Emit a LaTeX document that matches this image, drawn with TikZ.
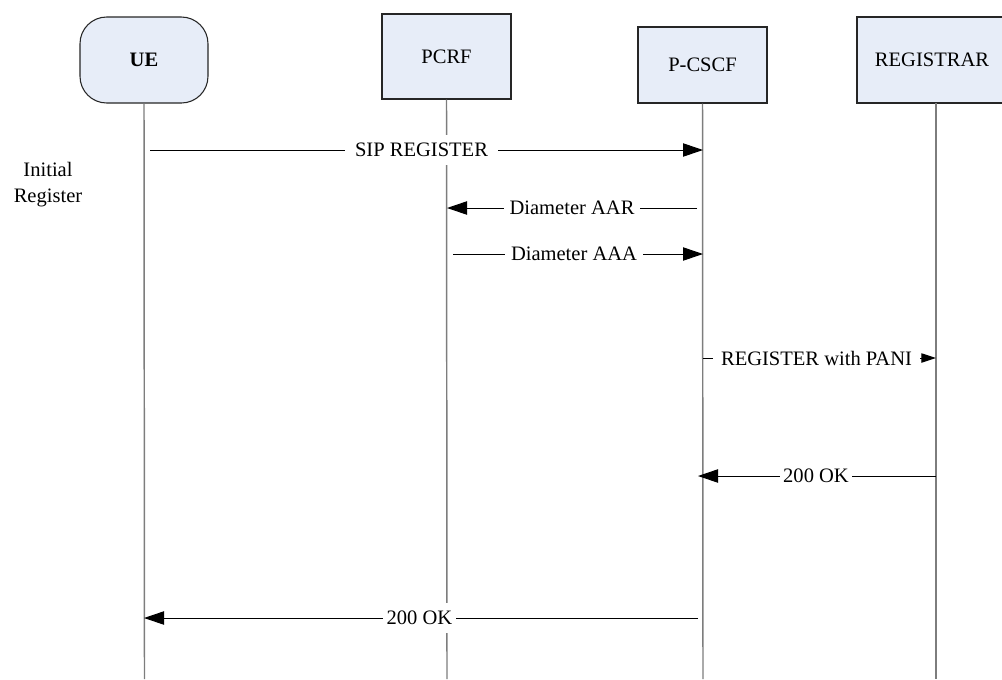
\documentclass[tikz,border=0pt]{standalone}
\usepackage{fontspec}
\setmainfont{Liberation Serif}
\usetikzlibrary{arrows.meta}
\definecolor{boxfill}{RGB}{231,237,248}
\definecolor{lifegray}{RGB}{125,125,125}
\begin{document}
\begin{tikzpicture}[x=0.75pt,y=-0.75pt,
  every node/.style={font=\fontsize{15.4}{19.5}\selectfont},
  actor/.style={draw=black!85, fill=boxfill, line width=0.8pt, inner sep=0pt},
  life/.style={draw=lifegray, line width=1.1pt},
  msg/.style={draw=black, line width=0.75pt, -{Triangle[length=15pt,width=10pt]}},
  smallmsg/.style={draw=black, line width=0.75pt, -{Triangle[length=11pt,width=7pt]}},
  lbl/.style={fill=white, inner sep=0pt, minimum height=22pt}]
\useasboundingbox (0,0) rectangle (1002,679);

% actors
\node[actor, rounded corners=20pt, minimum width=96pt, minimum height=64.5pt, font=\fontsize{15.4}{19.5}\selectfont\bfseries] (ue) at (144,60) {UE};
\node[actor, minimum width=96.75pt, minimum height=63.75pt] (pcrf) at (446.5,56.5) {PCRF};
\node[actor, minimum width=96.75pt, minimum height=57pt] (pcscf) at (702.5,65) {P-CSCF};
\node[actor, minimum width=112.5pt, minimum height=64.5pt] (reg) at (932,60) {REGISTRAR};

% lifelines
\coordinate (ueb) at (144.5,679);
\coordinate (pcrfb) at (447,679);
\coordinate (pcscfb) at (703,679);
\coordinate (regt) at (936,103);
\coordinate (regb) at (936,679);
\draw[life] (ue.south) -- (ueb);
\draw[life] (pcrf.south) -- (pcrfb);
\draw[life] (pcscf.south) -- (pcscfb);
\draw[life] (regt) -- (regb);

% side note
\node[align=center] (note) at (48,185) {Initial\\Register};

% messages
\coordinate (m1s) at (150,150);   \coordinate (m1e) at (703,150);
\coordinate (m2s) at (697,208);   \coordinate (m2e) at (447,208);
\coordinate (m3s) at (453,254);   \coordinate (m3e) at (703,254);
\coordinate (m4s) at (703,358);   \coordinate (m4e) at (936,358);
\coordinate (m5s) at (936,476);   \coordinate (m5e) at (698,476);
\coordinate (m6s) at (698,618);   \coordinate (m6e) at (144,618);

\draw[msg] (m1s) -- (m1e);
\node[lbl, minimum width=114.75pt] (l1) at (421.5,150) {SIP REGISTER};

\draw[msg] (m2s) -- (m2e);
\node[lbl, minimum width=102pt] (l2) at (572,208) {Diameter AAR\hspace{9pt}};

\draw[msg] (m3s) -- (m3e);
\node[lbl, minimum width=103pt] (l3) at (574,254) {Diameter AAA\hspace{4pt}};

\draw[smallmsg] (m4s) -- (m4e);
\node[lbl, minimum width=155pt] (l4) at (816.5,358) {REGISTER with PANI\hspace{8pt}};

\draw[msg] (m5s) -- (m5e);
\node[lbl, minimum width=54pt] (l5) at (816,476) {200 OK};

\draw[msg] (m6s) -- (m6e);
\node[lbl, minimum width=54.75pt] (l6) at (419.5,618) {200 OK};
\end{tikzpicture}
\end{document}
